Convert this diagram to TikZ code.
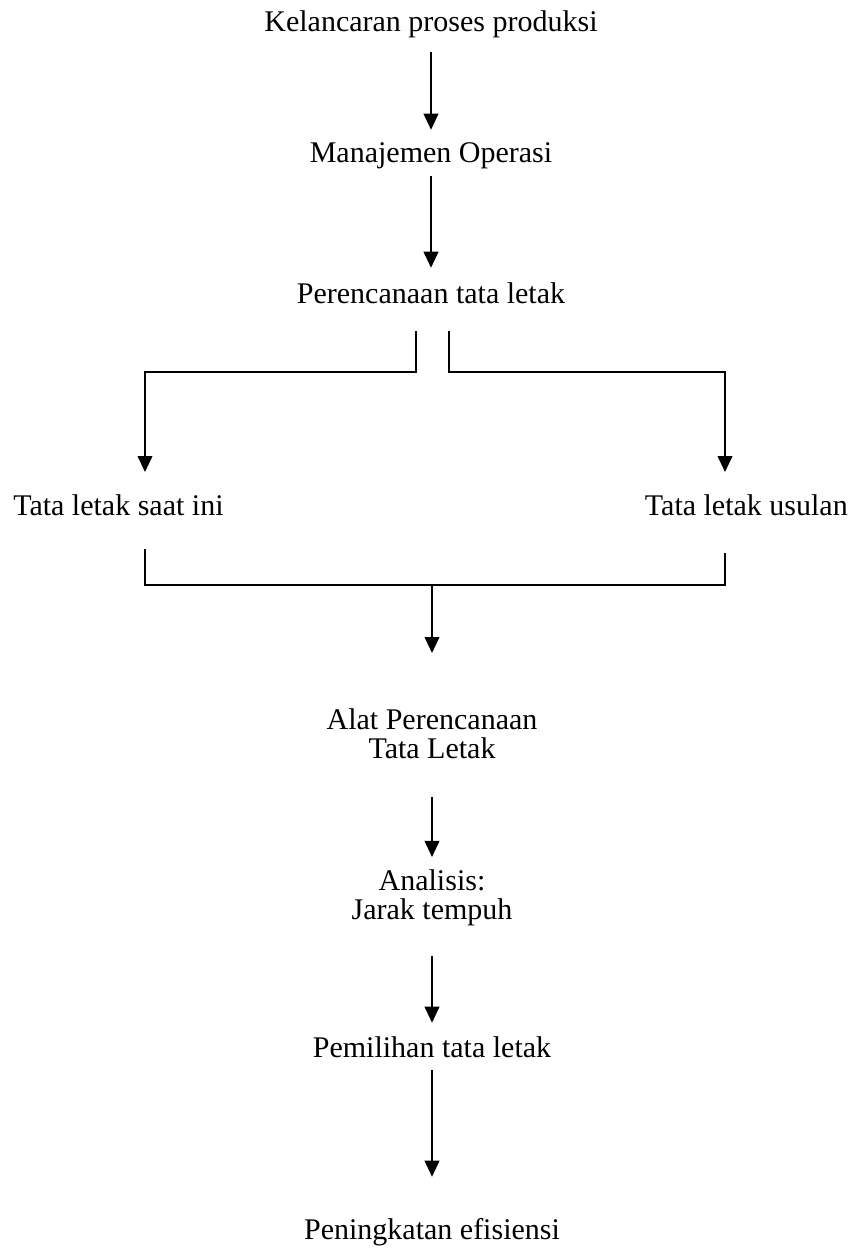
\documentclass[tikz,border=0pt]{standalone}
\usepackage{fontspec}
\setmainfont{Liberation Serif}
\usetikzlibrary{arrows.meta}

\begin{document}
\begin{tikzpicture}[x=0.75pt,y=-0.75pt,
    lbl/.style={inner sep=0pt,font=\fontsize{22.5}{22}\selectfont,text height=15pt,text depth=4.5pt},
    blk/.style={inner sep=0pt,font=\fontsize{22.5}{22}\selectfont,align=center},
    arr/.style={line width=1.4pt,-{Triangle[width=11pt,length=12pt]}},
    ln/.style={line width=1.4pt}]
        \useasboundingbox (0,0) rectangle (857,1252);
        \node [lbl] (kel) at (431,25) {Kelancaran proses produksi};
        \node [lbl] (man) at (431,156) {Manajemen Operasi};
        \node [lbl] (per) at (431,296) {Perencanaan tata letak};
        \node [lbl, anchor=west] (saat) at (13,508) {Tata letak saat ini};
        \node [lbl, anchor=east] (usul) at (848,508) {Tata letak usulan};
        \node [blk] (alat) at (432,733.5) {Alat Perencanaan\\Tata Letak};
        \node [blk] (ana) at (432,897.5) {Analisis:\\Jarak tempuh};
        \node [lbl] (pem) at (432,1050) {Pemilihan tata letak};
        \node [lbl] (pen) at (432,1232) {Peningkatan efisiensi};
        \coordinate (splL) at (416,331);
        \coordinate (splR) at (449,331);
        \coordinate (inL) at (145,472);
        \coordinate (inR) at (725,472);
        \coordinate (outL) at (145,549);
        \coordinate (outR) at (725,553);
        \coordinate (brk) at (432,585);
        \draw [arr, shorten <=10.5pt, shorten >=9.75pt] (kel) -- (man);
        \draw [arr, shorten <=5.25pt, shorten >=11.25pt] (man) -- (per);
        \draw [arr] (splL) -- ++(0,41) -| (inL);
        \draw [arr] (splR) -- ++(0,41) -| (inR);
        \draw [ln] (outL) -- ++(0,36) -| (outR);
        \draw [arr, shorten >=41.25pt] (brk) -- (alat);
        \draw [arr, shorten <=28.5pt, shorten >=9pt] (alat) -- (ana);
        \draw [arr, shorten <=22.5pt, shorten >=10.5pt] (ana) -- (pem);
        \draw [arr, shorten <=5.25pt, shorten >=31.5pt] (pem) -- (pen);
\end{tikzpicture}
\end{document}
